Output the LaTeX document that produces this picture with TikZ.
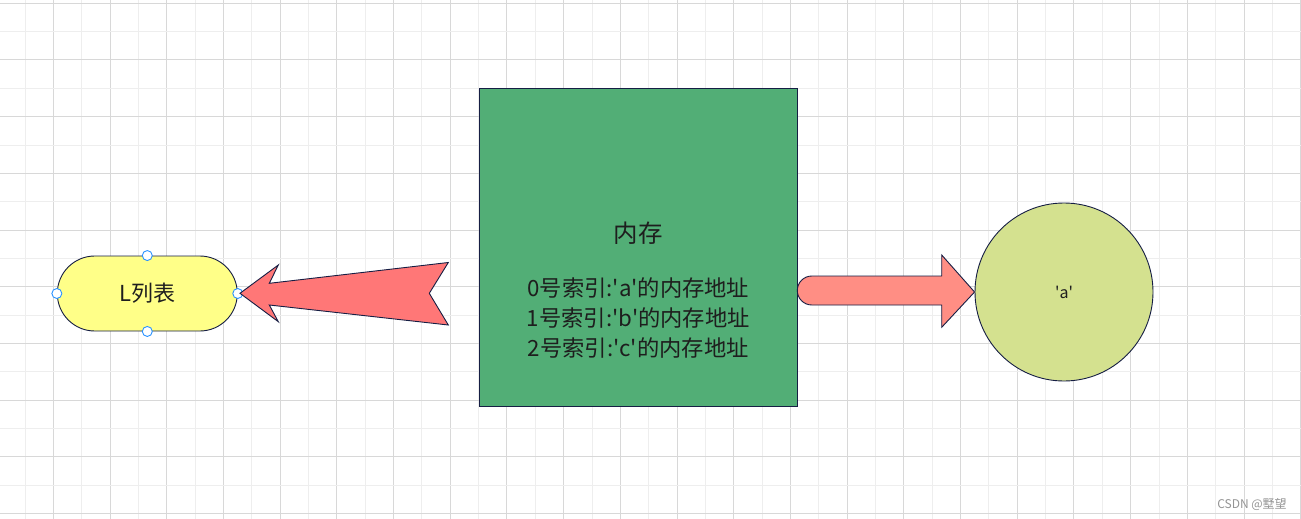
\documentclass[tikz,border=0pt]{standalone}
\usepackage{fontspec}
\setmainfont{Noto Sans CJK SC}
\usetikzlibrary{positioning}
\definecolor{gridlight}{RGB}{238,238,238}
\definecolor{griddark}{RGB}{216,216,216}
\definecolor{edgenavy}{RGB}{22,30,68}
\definecolor{memgreen}{RGB}{82,174,118}
\definecolor{listyellow}{RGB}{255,255,136}
\definecolor{arrowred}{RGB}{255,119,119}
\definecolor{arrowsalmon}{RGB}{255,142,132}
\definecolor{valgreen}{RGB}{212,225,143}
\definecolor{handleblue}{RGB}{41,146,255}
\definecolor{inktext}{RGB}{30,30,30}
\newcommand\sq{\textquotesingle}

\begin{document}
\begin{tikzpicture}[x=1pt,y=-1pt,
    outline/.style={draw=edgenavy,line width=0.9pt},
    handle/.style={circle,draw=handleblue,fill=white,line width=0.9pt,inner sep=0pt,minimum size=10pt}]
    \useasboundingbox (0,0) rectangle (1301,519);
    \fill[white] (0,0) rectangle (1301,519);

    %grid
    \foreach \k in {0,...,22} {
      \draw[gridlight,line width=1pt] ({25+56.7*\k},0) -- ++(0,519);
      \draw[griddark,line width=1pt] ({53.35+56.7*\k},0) -- ++(0,519);
    }
    \foreach \k in {0,...,9} {
      \draw[griddark,line width=1pt] (0,{3.3+56.7*\k}) -- ++(1301,0);
      \draw[gridlight,line width=1pt] (0,{31.65+56.7*\k}) -- ++(1301,0);
    }

    %memory block
    \node[outline,fill=memgreen,minimum width=318pt,minimum height=317.7pt] (mem) at (638.3,247.2) {};
    \node[text=inktext,font=\fontsize{24.5}{28}\selectfont] (memtitle) at (638.3,233) {内存};
    \node[text=inktext,align=center,font=\fontsize{22.3}{30}\selectfont] (memlist) at (638.3,318)
        {0号索引:\sq a\sq 的内存地址\\1号索引:\sq b\sq 的内存地址\\2号索引:\sq c\sq 的内存地址};

    %list
    \node[outline,fill=listyellow,rectangle,rounded corners=37.5pt,minimum width=180pt,minimum height=75pt,
          text=inktext,font=\fontsize{22}{26}\selectfont] (list) at (147.3,293.5) {L列表};
    \node[handle] (hn) at (list.north) {};
    \node[handle] (hs) at (list.south) {};
    \node[handle] (hw) at (list.west) {};
    \node[handle] (he) at (list.east) {};

    %arrow to list
    \draw[outline,fill=arrowred,line join=miter] (240,293.3) -- (278.3,265) -- (269.3,283.3)
        -- (448.3,262.5) -- (429.3,293.3) -- (448.3,325) -- (269.3,305) -- (278.3,321.7) -- cycle;

    %value
    \node[outline,fill=valgreen,circle,minimum size=178pt,text=inktext,
          font=\fontsize{16}{20}\selectfont] (val) at (1064,292) {\sq a\sq};

    %arrow to value
    \draw[outline,fill=arrowsalmon] (811.8,276) -- (941.7,276) -- (941.7,255) -- (val.west)
        -- (941.7,327.3) -- (941.7,305) -- (811.8,305) arc[start angle=90,end angle=270,radius=14.5] -- cycle;

    %watermark
    \node[text=black!42,font=\fontsize{12}{14}\selectfont] (mark) at (1252,504) {CSDN @墅望};
\end{tikzpicture}
\end{document}
